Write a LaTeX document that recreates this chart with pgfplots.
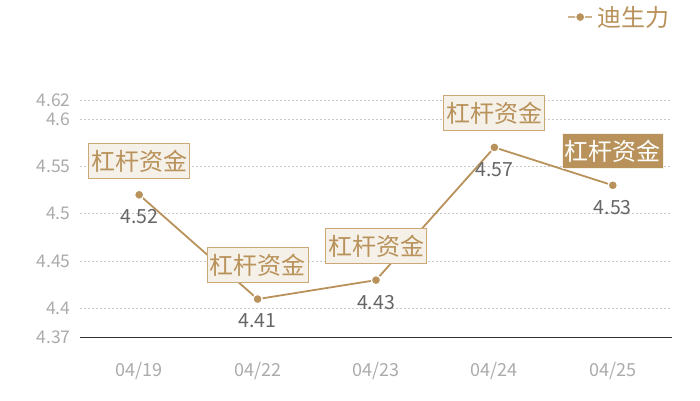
\documentclass[border=0pt]{standalone}
\usepackage{pgfplots}
\pgfplotsset{compat=1.18}
\usepackage{pgfplotstable}
\usepackage{fontspec}
\setmainfont{Noto Sans CJK SC}

\definecolor{gold}{HTML}{B8925A}
\definecolor{boxfill}{HTML}{F5F0E8}
\definecolor{boxline}{HTML}{CCA877}
\definecolor{ticktext}{HTML}{ABABAB}
\definecolor{valtext}{HTML}{666666}
\definecolor{gridc}{HTML}{C8C8C8}

\pgfplotstableread{
x y
0 4.52
1 4.41
2 4.43
3 4.57
4 4.53
}\rate

\pgfplotstableread{
x y
0 4.52
1 4.41
2 4.43
3 4.57
}\boxed

\pgfplotstableread{
x y
4 4.53
}\lastbox

\begin{document}
\begin{tikzpicture}[x=1pt,y=1pt]
\path[use as bounding box] (0,0) rectangle (700,400);
\begin{axis}[
    at={(80pt,63pt)}, anchor=south west,
    scale only axis,
    width=592pt, height=237pt,
    xmin=-0.5, xmax=4.5,
    ymin=4.37, ymax=4.62,
    xtick={0,1,2,3,4},
    xticklabels={04/19,04/22,04/23,04/24,04/25},
    ytick={4.37,4.4,4.45,4.5,4.55,4.6,4.62},
    yticklabels={4.37,4.4,4.45,4.5,4.55,4.6,4.62},
    axis x line*=bottom,
    axis y line*=left,
    y axis line style={draw=none},
    x axis line style={draw=black!80, line width=0.8pt},
    major tick length=0pt,
    ymajorgrids=true,
    grid style={gridc, line width=0.6pt, dash pattern=on 2pt off 2pt},
    ticklabel style={text=ticktext},
    xticklabel style={yshift=-22pt, font=\fontsize{18}{20}\selectfont},
    yticklabel style={xshift=-6pt, font=\fontsize{17.5}{19}\selectfont},
    /pgf/number format/assume math mode=true,
    clip=false,
    legend style={at={(1.0,1.35)}, anchor=east, draw=none, fill=none,
        font=\fontsize{24}{26}\selectfont, text=gold,
        inner sep=0pt, cells={anchor=west}},
    legend image code/.code={
        \draw[gold!70, line width=1.2pt] (0pt,0pt) -- (24pt,0pt);
        \draw[mark=*, mark size=4.5pt, mark options={fill=gold, draw=white, line width=1pt}]
            plot coordinates {(12pt,0pt)};
    },
]
\addplot[
    color=gold, line width=1.8pt,
    mark=*, mark size=4.6pt,
    mark options={fill=gold, draw=white, line width=1.2pt},
    nodes near coords,
    every node near coord/.append style={
        anchor=center, yshift=-22pt,
        font=\fontsize{19.5}{21}\selectfont, text=valtext},
] table[x=x, y=y] {\rate};
\addlegendentry{\hspace{3pt}迪生力}

\addplot[
    draw=none, mark=none, forget plot,
    nodes near coords={杠杆资金},
    every node near coord/.append style={
        anchor=center, yshift=34pt,
        draw=boxline, fill=boxfill, line width=1pt,
        minimum width=101pt, minimum height=35pt, inner sep=0pt,
        font=\fontsize{24}{26}\selectfont, text=gold},
] table[x=x, y=y] {\boxed};

\addplot[
    draw=none, mark=none, forget plot,
    nodes near coords={杠杆资金},
    every node near coord/.append style={
        anchor=center, yshift=34pt,
        draw=boxfill, fill=gold, line width=1pt,
        minimum width=101pt, minimum height=35pt, inner sep=0pt,
        font=\fontsize{24}{26}\selectfont, text=white},
] table[x=x, y=y] {\lastbox};
\end{axis}
\end{tikzpicture}
\end{document}
